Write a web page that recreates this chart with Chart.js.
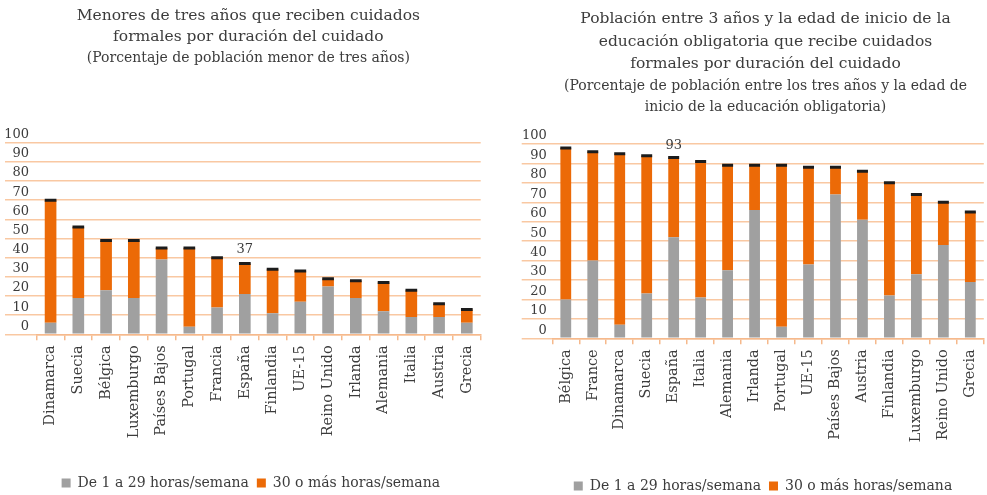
<!DOCTYPE html>
<html><head><meta charset="utf-8">
<script src="https://cdn.jsdelivr.net/npm/chart.js@4.4.0/dist/chart.umd.min.js"></script>
<style>
html,body{margin:0;padding:0;background:#fff;overflow:hidden;width:987px;height:495px;position:relative;}
#w1{position:absolute;left:0;top:0;width:490px;height:500px;}
#w2{position:absolute;left:505px;top:0;width:488px;height:503px;}
</style></head><body>
<div id="w1"><canvas id="c1"></canvas></div>
<div id="w2"><canvas id="c2"></canvas></div>
<script>
// ---- data ----
const seriesNames = ['De 1 a 29 horas/semana', '30 o más horas/semana'];
const yTicks = [0, 10, 20, 30, 40, 50, 60, 70, 80, 90, 100];

const title1 = ['Menores de tres años que reciben cuidados', 'formales por duración del cuidado'];
const subtitle1 = ['(Porcentaje de población menor de tres años)'];
const cats1 = ['Dinamarca','Suecia','Bélgica','Luxemburgo','Países Bajos','Portugal','Francia','España','Finlandia','UE-15','Reino Unido','Irlanda','Alemania','Italia','Austria','Grecia'];
const part1 = [6, 19, 23, 19, 39, 4, 14, 21, 11, 17, 25, 19, 12, 9, 9, 6];      // 1-29 h
const total1 = [70, 56, 49, 49, 45, 45, 40, 37, 34, 33, 29, 28, 27, 23, 16, 13]; // total
const note1 = {category: 'España', text: '37'};

const title2 = ['Población entre 3 años y la edad de inicio de la', 'educación obligatoria que recibe cuidados', 'formales por duración del cuidado'];
const subtitle2 = ['(Porcentaje de población entre los tres años y la edad de', 'inicio de la educación obligatoria)'];
const cats2 = ['Bélgica','France','Dinamarca','Suecia','España','Italia','Alemania','Irlanda','Portugal','UE-15','Países Bajos','Austria','Finlandia','Luxemburgo','Reino Unido','Grecia'];
const part2 = [20, 40, 7, 23, 52, 21, 35, 66, 6, 38, 74, 61, 22, 33, 48, 29];
const total2 = [98, 96, 95, 94, 93, 91, 89, 89, 89, 88, 88, 86, 80, 74, 70, 65];
const note2 = {category: 'España', text: '93'};

// ---- style ----
const FONT = "'DejaVu Serif', 'Liberation Serif', serif";
const TEXT = '#3c3c3c';
const GRAY = '#a0a0a0', ORANGE = '#ec6a07', CAP = '#1c1c1c';
const GRID = '#f9c8a2', AXIS = '#f6b98c';

const shiftPlugin = {
  id: 'shift',
  afterLayout(chart, args, opts) {
    chart.boxes.forEach(b => {
      if (b instanceof Chart.Scale) return;
      const s = (b === chart.legend) ? opts.legend : opts.title;
      b.left += s; b.right += s;
    });
  }
};

const notePlugin = {
  id: 'note',
  afterDatasetsDraw(chart, args, opts) {
    const idx = opts.cats.indexOf(opts.note.category);
    const x = chart.scales.x.getPixelForValue(idx);
    const y = chart.scales.y.getPixelForValue(opts.total[idx]) + opts.dy;
    const ctx = chart.ctx;
    ctx.save();
    ctx.font = "13px " + FONT;
    ctx.fillStyle = TEXT;
    ctx.textAlign = 'center';
    ctx.textBaseline = 'middle';
    ctx.fillText(opts.note.text, x, y);
    ctx.restore();
  }
};

function makeChart(id, cats, part, total, note, title, subtitle, cfg) {
  const rest = total.map((t, i) => t - part[i]);
  return new Chart(document.getElementById(id), {
    type: 'bar',
    data: {
      labels: cats,
      datasets: [
        {label: seriesNames[0], data: part, backgroundColor: GRAY, barPercentage: cfg.barPct, categoryPercentage: 1, order: 1},
        {label: seriesNames[1], data: rest, backgroundColor: ORANGE, barPercentage: cfg.barPct, categoryPercentage: 1, order: 1},
        {type: 'line', label: 'Total', data: total, stack: 'cap', showLine: false, pointStyle: 'line',
         pointRadius: cfg.capR, pointHoverRadius: cfg.capR, pointBorderWidth: 3, pointHoverBorderWidth: 3,
         pointBorderColor: CAP, pointBackgroundColor: CAP, borderColor: CAP, order: 0}
      ]
    },
    options: {
      responsive: true, maintainAspectRatio: false, animation: false,
      events: [],
      layout: {padding: {left: cfg.padL, right: cfg.padR, top: 0, bottom: 0}},
      plugins: {
        title: {display: true, text: title, color: TEXT,
          font: {family: FONT, size: 15.5, weight: 'normal', lineHeight: cfg.titleLH},
          padding: {top: cfg.titleTop, bottom: 0}},
        subtitle: {display: true, text: subtitle, color: TEXT,
          font: {family: FONT, size: 14, weight: 'normal', lineHeight: cfg.subLH},
          padding: {top: 0, bottom: cfg.subBottom}},
        legend: {position: 'bottom',
          labels: {filter: it => it.datasetIndex < 2, boxWidth: 9, boxHeight: 9, padding: 8,
            color: TEXT, font: {family: FONT, size: 14}}},
        tooltip: {enabled: false},
        shift: {legend: cfg.legendShift, title: cfg.titleShift},
        note: {cats: cats, total: total, note: note, dy: cfg.noteDy}
      },
      scales: {
        x: {
          stacked: true,
          grid: {display: true, drawOnChartArea: false, drawTicks: true, tickLength: 6, color: AXIS, lineWidth: 1.5, offset: true},
          border: {display: true, color: AXIS, width: 1.5},
          ticks: {autoSkip: false, maxRotation: 90, minRotation: 90, padding: 5, color: TEXT, font: {family: FONT, size: 14.5}},
          afterFit: s => { s.height = cfg.xH; }
        },
        y: {
          stacked: true, min: 0, max: 100,
          afterBuildTicks: s => { s.ticks = yTicks.map(v => ({value: v})); },
          grid: {color: GRID, lineWidth: 1.5, drawTicks: true, tickLength: cfg.tickLen},
          border: {display: false},
          ticks: {padding: cfg.yPad, labelOffset: -8, color: TEXT, font: {family: FONT, size: 13}},
          afterFit: s => { s.width = cfg.tickLen; }
        }
      }
    },
    plugins: [shiftPlugin, notePlugin]
  });
}

makeChart('c1', cats1, part1, total1, note1, title1, subtitle1, {
  padL: 5, padR: 9.3, tickLen: 31.7, yPad: -24, barPct: 0.42, capR: 5.85,
  titleLH: '21.5px', titleTop: 5, subLH: '20px', subBottom: 74.7,
  xH: 133.7, noteDy: -14, legendShift: 8, titleShift: 5.5
});
makeChart('c2', cats2, part2, total2, note2, title2, subtitle2, {
  padL: 16.7, padR: 4.7, tickLen: 30.6, yPad: -25, barPct: 0.40, capR: 5.5,
  titleLH: '22.5px', titleTop: 8, subLH: '21.5px', subBottom: 25.5,
  xH: 132.7, noteDy: -11.5, legendShift: 8, titleShift: 10.5
});
</script>
</body></html>
